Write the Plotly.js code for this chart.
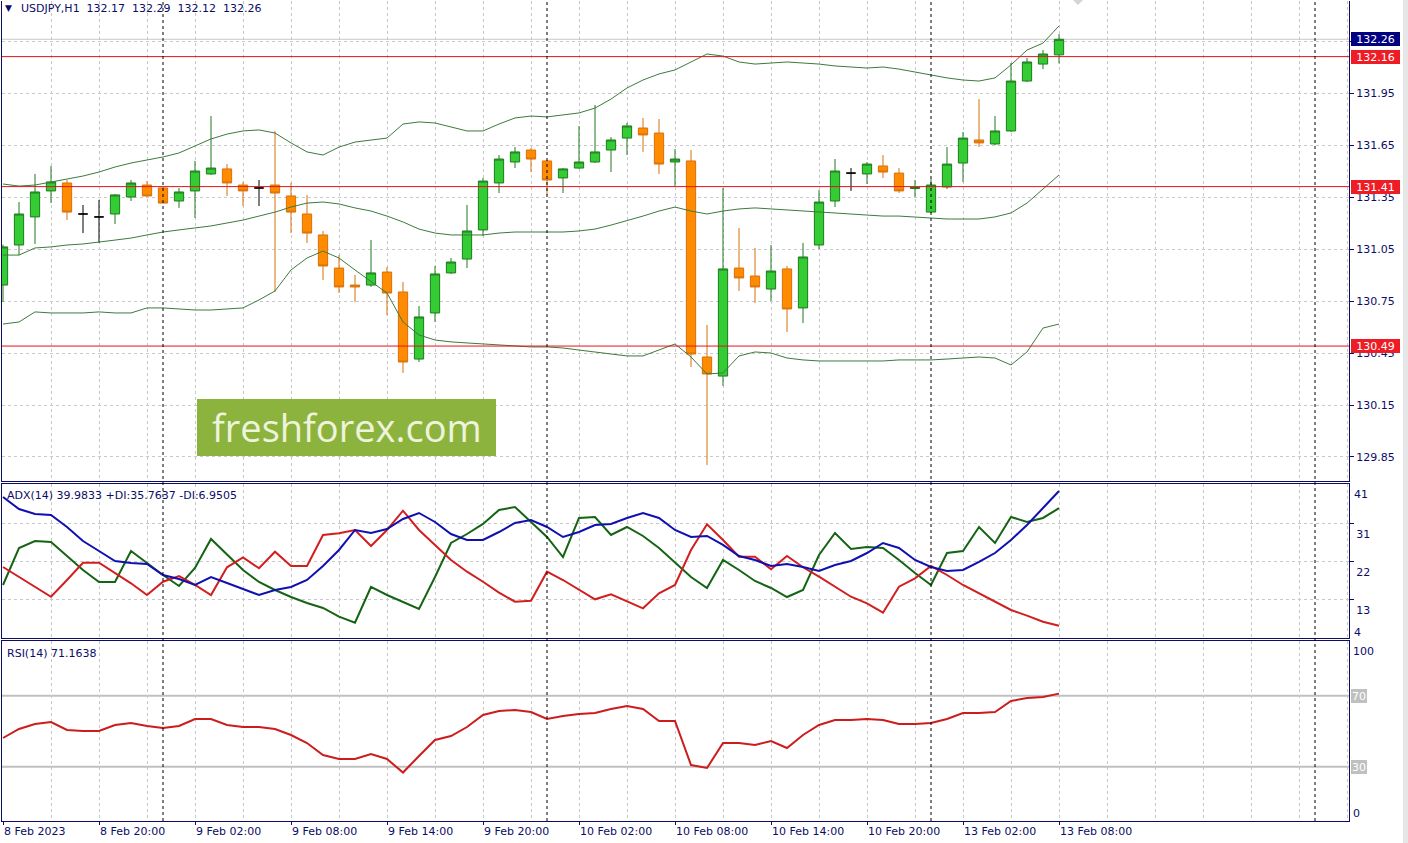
<!DOCTYPE html>
<html><head><meta charset="utf-8">
<script src="https://cdn.plot.ly/plotly-3.0.1.min.js"></script>
<style>html,body{margin:0;padding:0;background:#fff;overflow:hidden}#chart{width:1408px;height:843px}</style>
</head><body><div id="chart"></div>
<script>
// ---------------- data ----------------
const symbol = 'USDJPY,H1';
const timeLabels = ['8 Feb 2023','8 Feb 20:00','9 Feb 02:00','9 Feb 08:00','9 Feb 14:00','9 Feb 20:00',
  '10 Feb 02:00','10 Feb 08:00','10 Feb 14:00','10 Feb 20:00','13 Feb 02:00','13 Feb 08:00'];
const labelIndex = [0,6,12,18,24,30,36,42,48,54,60,66];
const daySeparators = [10,34,58,82];

const open = [130.842,131.073,131.235,131.385,131.431,131.252,131.235,131.252,131.350,131.419,
  131.402,131.327,131.385,131.483,131.512,131.419,131.402,131.419,131.356,131.252,
  131.131,130.940,130.842,130.842,130.917,130.802,130.415,130.681,130.912,130.992,
  131.160,131.431,131.552,131.621,131.558,131.460,131.517,131.552,131.621,131.690,
  131.748,131.719,131.552,131.558,130.427,130.317,130.940,130.894,130.819,130.935,
  130.710,131.073,131.327,131.488,131.483,131.529,131.488,131.399,131.263,131.408,
  131.546,131.679,131.656,131.731,132.019,132.117,132.170];
const high = [131.075,131.321,131.483,131.529,131.448,131.304,131.333,131.367,131.448,131.442,
  131.408,131.402,131.558,131.817,131.540,131.437,131.448,131.731,131.431,131.362,
  131.154,131.015,130.900,131.102,130.946,130.860,130.721,130.952,130.998,131.304,
  131.460,131.592,131.638,131.633,131.563,131.517,131.760,131.881,131.696,131.777,
  131.806,131.800,131.627,131.621,130.612,131.402,131.171,131.056,131.073,130.952,
  131.085,131.390,131.569,131.517,131.552,131.592,131.517,131.448,131.454,131.638,
  131.725,131.915,131.817,132.123,132.152,132.198,132.290];
const low = [130.744,131.015,131.079,131.315,131.217,131.142,131.085,131.194,131.327,131.350,
  131.315,131.287,131.229,131.477,131.356,131.298,131.298,130.802,131.142,131.085,
  130.871,130.796,130.744,130.831,130.669,130.335,130.398,130.629,130.906,130.940,
  131.125,131.373,131.517,131.494,131.362,131.373,131.512,131.546,131.494,131.592,
  131.610,131.483,131.413,130.369,129.804,130.260,130.808,130.738,130.750,130.571,
  130.623,131.050,131.292,131.385,131.425,131.460,131.373,131.350,131.258,131.396,
  131.437,131.638,131.650,131.725,132.013,132.088,132.120];
const close = [131.062,131.252,131.379,131.437,131.263,131.252,131.235,131.362,131.431,131.356,
  131.315,131.379,131.500,131.517,131.431,131.385,131.402,131.373,131.263,131.142,
  130.952,130.831,130.831,130.912,130.796,130.398,130.658,130.906,130.975,131.154,
  131.442,131.569,131.610,131.569,131.448,131.512,131.552,131.610,131.679,131.760,
  131.708,131.540,131.569,130.444,130.329,130.935,130.883,130.831,130.923,130.704,
  131.004,131.321,131.500,131.488,131.540,131.494,131.385,131.405,131.419,131.540,
  131.690,131.662,131.731,132.019,132.129,132.175,132.260];

const bbUpper = [131.425,131.413,131.419,131.437,131.454,131.471,131.494,131.523,131.546,131.563,
  131.581,131.604,131.644,131.685,131.713,131.731,131.737,131.719,131.662,131.610,
  131.592,131.638,131.667,131.679,131.690,131.771,131.783,131.777,131.754,131.731,
  131.731,131.771,131.806,131.817,131.812,131.823,131.835,131.863,131.915,131.979,
  132.025,132.060,132.083,132.129,132.175,132.163,132.129,132.117,132.123,132.129,
  132.123,132.117,132.106,132.100,132.094,132.100,132.088,132.071,132.054,132.037,
  132.025,132.019,132.037,132.112,132.198,132.238,132.337];
const bbMiddle = [131.015,131.015,131.056,131.062,131.073,131.079,131.090,131.102,131.113,131.131,
  131.148,131.160,131.171,131.183,131.200,131.217,131.240,131.263,131.292,131.315,
  131.321,131.310,131.287,131.269,131.240,131.206,131.165,131.142,131.131,131.131,
  131.131,131.142,131.148,131.148,131.148,131.148,131.154,131.165,131.188,131.212,
  131.240,131.269,131.292,131.269,131.252,131.269,131.281,131.287,131.281,131.275,
  131.269,131.263,131.258,131.252,131.246,131.240,131.240,131.235,131.229,131.223,
  131.223,131.223,131.235,131.258,131.315,131.396,131.477];
const bbLower = [130.617,130.629,130.687,130.681,130.681,130.681,130.687,130.681,130.681,130.710,
  130.710,130.704,130.698,130.698,130.704,130.710,130.756,130.808,130.929,130.998,
  131.038,130.998,130.929,130.860,130.796,130.629,130.554,130.525,130.514,130.508,
  130.502,130.496,130.490,130.485,130.485,130.479,130.467,130.456,130.444,130.433,
  130.433,130.467,130.502,130.427,130.329,130.335,130.433,130.456,130.450,130.421,
  130.410,130.404,130.404,130.404,130.404,130.404,130.410,130.410,130.410,130.415,
  130.421,130.427,130.421,130.381,130.456,130.594,130.617];

const adx = [38.51,35.56,34.34,34.09,31.15,27.72,25.26,22.81,22.32,22.08,
  19.38,18.40,16.93,18.89,17.42,15.95,14.47,15.70,16.44,18.15,
  21.59,25.51,30.41,29.68,30.66,33.11,34.58,32.38,29.43,27.96,
  27.96,29.92,32.13,32.87,31.15,28.70,29.92,31.64,31.88,33.36,
  34.58,33.36,30.41,28.70,28.94,26.74,24.04,23.06,21.59,22.08,
  21.34,20.36,21.83,22.81,24.77,27.23,26.00,23.06,21.34,20.36,
  20.60,22.57,24.77,27.96,31.64,35.81,39.9833];
const plusDI = [16.93,26.00,27.72,27.47,24.04,20.60,17.66,17.66,25.26,22.32,
  19.38,16.69,21.10,28.21,24.28,20.60,17.66,15.70,13.98,12.51,
  11.29,9.15,7.68,16.44,14.47,12.76,11.04,18.89,27.23,29.43,
  31.89,35.32,36.05,32.38,28.70,23.79,33.36,33.60,29.19,31.15,
  28.94,26.00,22.32,18.89,16.19,23.06,20.60,17.91,16.19,13.98,
  15.70,24.28,29.68,25.75,26.25,26.00,23.06,19.87,16.93,24.77,
  25.26,31.15,27.23,33.60,32.38,33.36,35.7637];
const minusDI = [21.34,18.89,16.51,14.05,18.15,22.39,22.39,19.79,17.34,14.47,
  17.73,19.13,16.93,14.47,21.27,23.71,21.02,25.09,21.59,21.59,
  29.19,29.60,30.41,26.49,30.41,35.14,30.41,26.74,23.06,20.19,
  17.73,15.04,12.83,13.07,20.19,18.15,15.70,13.42,14.65,12.83,
  11.21,14.89,16.93,25.51,31.81,27.96,23.87,23.87,20.77,24.04,
  21.27,18.96,16.51,14.05,12.44,10.13,16.51,18.57,21.59,19.38,
  16.93,14.89,12.83,10.80,9.42,7.93,6.9505];
const rsi = [46.17,51.24,54.06,55.18,50.68,50.11,50.11,53.49,54.62,52.93,
  51.80,52.93,56.87,56.87,53.49,52.37,52.37,51.24,47.86,43.35,
  36.59,34.34,34.34,37.15,34.34,26.73,36.03,45.04,47.30,52.37,
  59.13,61.38,61.94,60.82,56.87,58.56,59.69,60.25,62.51,64.20,
  62.51,55.75,55.75,30.96,29.27,43.35,43.35,42.23,44.48,40.54,
  47.86,53.49,56.31,56.31,56.87,56.31,54.06,54.06,54.62,56.87,
  60.25,60.25,60.82,67.01,68.70,69.27,71.1638];

const levels = [132.16, 131.41, 130.49];
const priceTicks = [129.85,130.15,130.45,130.75,131.05,131.35,131.65,131.95,132.25];
const adxGrid = [13.25, 22.57, 31.89];
const adxGridText = ['13','22','31'];
const adxEnds = ['41','4'];
const rsiLevels = [70, 30];
const rsiEnds = ['100','0'];

// ---------------- build ----------------
const NAVY = '#0c0c66';
const GRID = '#c8c8c8';
const FONT = 'DejaVu Sans, Verdana, sans-serif';
const L = 2, R = 1349, T = 1, B = 821;
const px = x => (x - L) / (R - L);
const py = y => (B - y) / (B - T);

const bars = open.map((_, i) => i);
const last = open.length - 1;
const norm = {x: [], o: [], h: [], l: [], c: []};
const doji = {x: [], o: [], h: [], l: [], c: []};
bars.forEach(i => {
  const t = open[i] === close[i] ? doji : norm;
  t.x.push(i); t.o.push(open[i]); t.h.push(high[i]); t.l.push(low[i]); t.c.push(close[i]);
});

const bandLine = {color: '#3d7a3d', width: 1};
const traces = [
  {type: 'scatter', mode: 'lines', x: bars, y: bbUpper, line: bandLine, xaxis: 'x', yaxis: 'y', hoverinfo: 'skip'},
  {type: 'scatter', mode: 'lines', x: bars, y: bbMiddle, line: bandLine, xaxis: 'x', yaxis: 'y', hoverinfo: 'skip'},
  {type: 'scatter', mode: 'lines', x: bars, y: bbLower, line: bandLine, xaxis: 'x', yaxis: 'y', hoverinfo: 'skip'},
  {type: 'candlestick', x: norm.x, open: norm.o, high: norm.h, low: norm.l, close: norm.c,
    xaxis: 'x', yaxis: 'y', whiskerwidth: 0, hoverinfo: 'skip',
    increasing: {line: {color: '#1f7a1f', width: 1}, fillcolor: '#33cc33'},
    decreasing: {line: {color: '#d8700c', width: 1}, fillcolor: '#ff8c00'}},
  {type: 'candlestick', x: doji.x, open: doji.o, high: doji.h, low: doji.l, close: doji.c,
    xaxis: 'x', yaxis: 'y', whiskerwidth: 0, hoverinfo: 'skip',
    increasing: {line: {color: '#000000', width: 1}, fillcolor: '#000000'},
    decreasing: {line: {color: '#000000', width: 1}, fillcolor: '#000000'}},
  {type: 'scatter', mode: 'lines', x: bars, y: plusDI, line: {color: '#146414', width: 2}, xaxis: 'x2', yaxis: 'y2', hoverinfo: 'skip'},
  {type: 'scatter', mode: 'lines', x: bars, y: minusDI, line: {color: '#d21e1e', width: 2}, xaxis: 'x2', yaxis: 'y2', hoverinfo: 'skip'},
  {type: 'scatter', mode: 'lines', x: bars, y: adx, line: {color: '#1010b0', width: 2}, xaxis: 'x2', yaxis: 'y2', hoverinfo: 'skip'},
  {type: 'scatter', mode: 'lines', x: bars, y: rsi, line: {color: '#cc1c1c', width: 2}, xaxis: 'x3', yaxis: 'y3', hoverinfo: 'skip'}
];

const xBase = {
  range: [-0.0625, 84.125], tickmode: 'linear', tick0: 0, dtick: 3,
  showticklabels: false, ticks: '', showgrid: true, gridcolor: GRID, griddash: '3px,3px', gridwidth: 1,
  zeroline: false, showline: true, mirror: true, linecolor: NAVY, linewidth: 1, fixedrange: true
};
const yBase = {
  side: 'right', zeroline: false, showline: true, mirror: true, linecolor: NAVY, linewidth: 1,
  gridcolor: GRID, griddash: '3px,3px', gridwidth: 1, fixedrange: true,
  tickfont: {family: FONT, size: 11, color: NAVY}, tickcolor: NAVY
};

const shapes = [];
levels.forEach(v => shapes.push({type: 'line', xref: 'paper', yref: 'y', x0: 0, x1: 1, y0: v, y1: v,
  line: {color: '#e4141a', width: 1}, layer: 'above'}));
shapes.push({type: 'line', xref: 'paper', yref: 'y', x0: 0, x1: 1, y0: close[last], y1: close[last],
  line: {color: '#c8c8c8', width: 1}, layer: 'between'});
rsiLevels.forEach(v => shapes.push({type: 'line', xref: 'paper', yref: 'y3', x0: 0, x1: 1, y0: v, y1: v,
  line: {color: '#c0c0c0', width: 2}, layer: 'between'}));
daySeparators.forEach(d => shapes.push({type: 'line', xref: 'x', yref: 'paper', x0: d, x1: d, y0: 0, y1: 1,
  line: {color: '#000000', width: 1, dash: '3px,3px'}, layer: 'above'}));
// watermark plate
shapes.push({type: 'rect', xref: 'paper', yref: 'paper', x0: px(197), x1: px(496), y0: py(456), y1: py(399),
  fillcolor: '#8db33f', line: {width: 0}, layer: 'above'});
// small marker at top and right window edge
shapes.push({type: 'path', xref: 'paper', yref: 'paper',
  path: `M ${px(1073)},${py(0)} L ${px(1083)},${py(0)} L ${px(1078)},${py(5)} Z`,
  fillcolor: '#d4d4d4', line: {width: 0}, layer: 'above'});
shapes.push({type: 'rect', xref: 'paper', yref: 'paper', x0: px(1403), x1: px(1408), y0: py(843), y1: py(0),
  fillcolor: '#e6e6e6', line: {width: 0}});

const txt = (text, x, y, extra) => Object.assign({text, xref: 'paper', yref: 'paper', x, y,
  xanchor: 'left', yanchor: 'middle', showarrow: false, borderpad: 0, borderwidth: 0,
  font: {family: FONT, size: 11, color: NAVY}}, extra || {});

const ohlcText = [open[last], high[last], low[last], close[last]].map(v => v.toFixed(2)).join('\u00a0\u00a0');
const annotations = [
  txt('\u25BC', px(5), py(8), {font: {family: FONT, size: 9, color: NAVY}}),
  txt(symbol + '\u00a0\u00a0' + ohlcText, px(21), py(8)),
  txt(`ADX(14) ${adx[last].toFixed(4)} +DI:${plusDI[last].toFixed(4)} -DI:${minusDI[last].toFixed(4)}`, px(7), py(495.5)),
  txt(`RSI(14) ${rsi[last].toFixed(4)}`, px(7), py(653)),
  txt(adxEnds[0], px(1354), py(494)),
  txt(adxEnds[1], px(1354), py(632)),
  txt(rsiEnds[0], px(1353), py(651)),
  txt(rsiEnds[1], px(1353), py(813)),
  {text: 'freshforex.com', xref: 'paper', yref: 'paper', x: px(347), y: py(427), xanchor: 'center', yanchor: 'middle',
    showarrow: false, font: {family: 'Open Sans, sans-serif', size: 38, color: '#eef3dc'}}
];
const boxLabel = (v, color) => ({text: v.toFixed(2), xref: 'paper', yref: 'y', x: px(1351), y: v,
  xanchor: 'left', yanchor: 'middle', showarrow: false, bgcolor: color, borderpad: 1, borderwidth: 0,
  width: 47, height: 12, align: 'center', font: {family: FONT, size: 11, color: '#ffffff'}});
annotations.push(boxLabel(close[last], '#000080'));
levels.forEach(v => annotations.push(boxLabel(v, '#ee1c24')));
rsiLevels.forEach(v => annotations.push({text: String(v), xref: 'paper', yref: 'y3', x: px(1351), y: v,
  xanchor: 'left', yanchor: 'middle', showarrow: false, bgcolor: '#c0c0c0', borderpad: 1, borderwidth: 0,
  width: 14, height: 12, font: {family: FONT, size: 11, color: '#ffffff'}}));

const layout = {
  width: 1408, height: 843,
  margin: {l: L, r: 1408 - R, t: T, b: 843 - B, pad: 0},
  paper_bgcolor: '#ffffff', plot_bgcolor: '#ffffff',
  showlegend: false, hovermode: false, dragmode: false,
  boxgap: 0.42, boxgroupgap: 0,
  font: {family: FONT, size: 11, color: NAVY},
  xaxis: Object.assign({}, xBase, {anchor: 'y', mirror: false, rangeslider: {visible: false}}),
  xaxis2: Object.assign({}, xBase, {anchor: 'y2'}),
  xaxis3: Object.assign({}, xBase, {anchor: 'y3', tickmode: 'array', tickvals: labelIndex, ticktext: timeLabels,
    showticklabels: true, ticks: 'outside', ticklen: 3, tickcolor: NAVY, ticklabelposition: 'outside right',
    tickfont: {family: FONT, size: 11, color: NAVY},
    minor: {tickmode: 'linear', tick0: 0, dtick: 3, showgrid: true, gridcolor: GRID, griddash: '3px,3px', gridwidth: 1, ticks: ''}}),
  yaxis: Object.assign({}, yBase, {domain: [340 / 820, 1], range: [129.7115, 132.4808],
    tickmode: 'array', tickvals: priceTicks, ticktext: priceTicks.map(v => v.toFixed(2)),
    ticks: 'outside', ticklen: 4, showgrid: true}),
  yaxis2: Object.assign({}, yBase, {domain: [183 / 820, 337 / 820], range: [3.93, 41.69],
    tickmode: 'array', tickvals: adxGrid, ticktext: adxGridText, ticks: 'outside', ticklen: 4,
    ticklabelshift: 10, showgrid: true}),
  yaxis3: Object.assign({}, yBase, {domain: [0, 180 / 820], range: [-0.59, 100.82],
    showticklabels: false, ticks: '', showgrid: false}),
  shapes, annotations
};

Plotly.newPlot('chart', traces, layout, {displayModeBar: false, staticPlot: true});
</script>
</body></html>
